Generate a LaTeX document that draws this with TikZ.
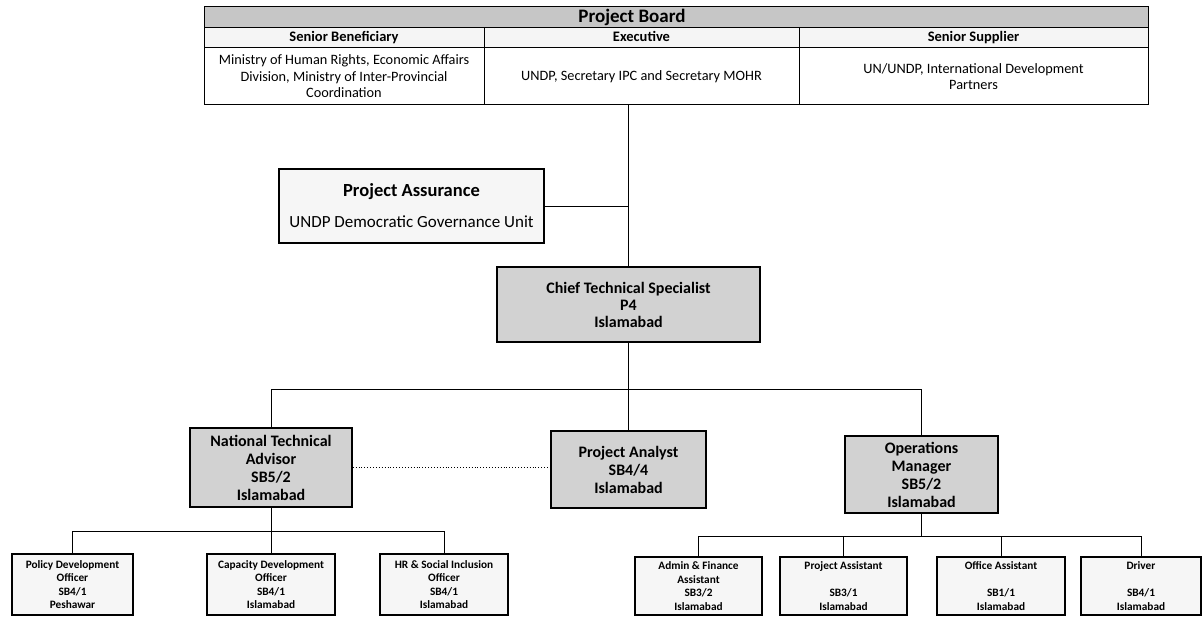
\documentclass[tikz,border=0pt]{standalone}
\usepackage{fontspec}
\setmainfont{Carlito}
\usetikzlibrary{positioning}

\begin{document}
\begin{tikzpicture}[x=1pt, y=-1pt,
					boardcell/.style={rectangle,
					draw=black,
					line width=1pt,
					outer sep=0pt,
					inner sep=0pt,
					align=center},
					titlecell/.style={boardcell,
					fill=gray!45,
					font=\fontsize{19}{20}\selectfont\bfseries},
					headcell/.style={boardcell,
					fill=gray!8,
					minimum height=20pt,
					text height=10pt,
					text depth=3pt,
					font=\fontsize{14.5}{16}\selectfont\bfseries},
					textcell/.style={boardcell,
					fill=white,
					minimum height=57pt,
					font=\fontsize{14.3}{16.5}\selectfont},
					darkbox/.style={rectangle,
					draw=black,
					line width=1.4pt,
					fill=gray!35,
					inner sep=0pt,
					align=center,
					font=\fontsize{16}{18}\selectfont\bfseries},
					lightbox/.style={rectangle,
					draw=black,
					line width=1.2pt,
					fill=gray!7,
					inner sep=0pt,
					align=center,
					font=\fontsize{11.3}{13.5}\selectfont\bfseries},
					link/.style={draw=black, line width=0.9pt}
					]

% page size
\useasboundingbox (0,0) rectangle (1202,617);

%project board
\node[titlecell, minimum width=944pt, minimum height=21pt] (board) at (676,17.5) {\hspace*{-88pt}Project Board};
\node[headcell, minimum width=280pt] (ben) [below right=0pt and 0pt of board.south west] {Senior Beneficiary};
\node[headcell, minimum width=315pt] (exe) [right=0pt of ben] {Executive};
\node[headcell, minimum width=349pt] (sup) [right=0pt of exe] {Senior Supplier};
\node[textcell, minimum width=280pt] (benText) [below=0pt of ben] {Ministry of Human Rights, Economic Affairs\\Division, Ministry of Inter-Provincial\\Coordination};
\node[textcell, minimum width=315pt] (exeText) [below=0pt of exe] {UNDP, Secretary IPC and Secretary MOHR};
\node[textcell, minimum width=349pt] (supText) [below=0pt of sup] {UN/UNDP, International Development\\Partners};

%assurance and chief
\node[lightbox, line width=1.4pt, minimum width=265pt, minimum height=74pt, font=\fontsize{17}{19}\selectfont] (assure) at (411.5,206)
	{\fontsize{18.5}{20}\selectfont\bfseries Project Assurance\\[12pt]UNDP Democratic Governance Unit};
\node[darkbox, minimum width=263pt, minimum height=75pt, font=\fontsize{16}{17}\selectfont\bfseries] (cts) at (628.5,304.5) {Chief Technical Specialist\\P4\\Islamabad};

\draw[link] (cts.north) -- (cts.north |- exeText.south);
\draw[link] (assure.east) -- (assure.east -| cts.north);

%second level
\node[darkbox, minimum width=162pt, minimum height=79pt] (nta) at (271,467.5) {National Technical\\Advisor\\SB5/2\\Islamabad};
\node[darkbox, minimum width=155pt, minimum height=77pt] (analyst) at (628.5,469.5) {Project Analyst\\SB4/4\\Islamabad};
\node[darkbox, minimum width=153pt, minimum height=77pt] (ops) at (921.5,474.5) {Operations\\Manager\\SB5/2\\Islamabad};

\coordinate (bus) at (0,389);
\draw[link] (cts.south) -- (analyst.north);
\draw[link] (nta.north) -- (nta.north |- bus) -- (ops.north |- bus) -- (ops.north);
\draw[link, dotted] (nta.east) -- (nta.east -| analyst.west);

%advisor team
\node[lightbox, minimum width=121pt, minimum height=61pt] (policy) at (72.5,584.5) {Policy Development\\Officer\\SB4/1\\Peshawar};
\node[lightbox, minimum width=128pt, minimum height=61pt] (capacity) at (271,584.5) {Capacity Development\\Officer\\SB4/1\\Islamabad};
\node[lightbox, minimum width=128pt, minimum height=61pt] (hrsi) at (444,584.5) {HR \& Social Inclusion\\Officer\\SB4/1\\Islamabad};

\coordinate (ntaBus) at (0,531);
\draw[link] (nta.south) -- (capacity.north);
\draw[link] (policy.north) -- (policy.north |- ntaBus) -- (hrsi.north |- ntaBus) -- (hrsi.north);

%operations team
\node[lightbox, minimum width=127pt, minimum height=58pt] (admin) at (698.5,586) {Admin \& Finance\\Assistant\\SB3/2\\Islamabad};
\node[lightbox, minimum width=127pt, minimum height=58pt] (projAsst) at (843.5,586) {Project Assistant\\[13.5pt]SB3/1\\Islamabad};
\node[lightbox, minimum width=128pt, minimum height=58pt] (office) at (1001,586) {Office Assistant\\[13.5pt]SB1/1\\Islamabad};
\node[lightbox, minimum width=120pt, minimum height=58pt] (driver) at (1141,586) {Driver\\[13.5pt]SB4/1\\Islamabad};

\coordinate (opsBus) at (0,536);
\draw[link] (ops.south) -- (ops.south |- opsBus);
\draw[link] (admin.north) -- (admin.north |- opsBus) -- (driver.north |- opsBus) -- (driver.north);
\draw[link] (projAsst.north) -- (projAsst.north |- opsBus);
\draw[link] (office.north) -- (office.north |- opsBus);

\end{tikzpicture}
\end{document}
